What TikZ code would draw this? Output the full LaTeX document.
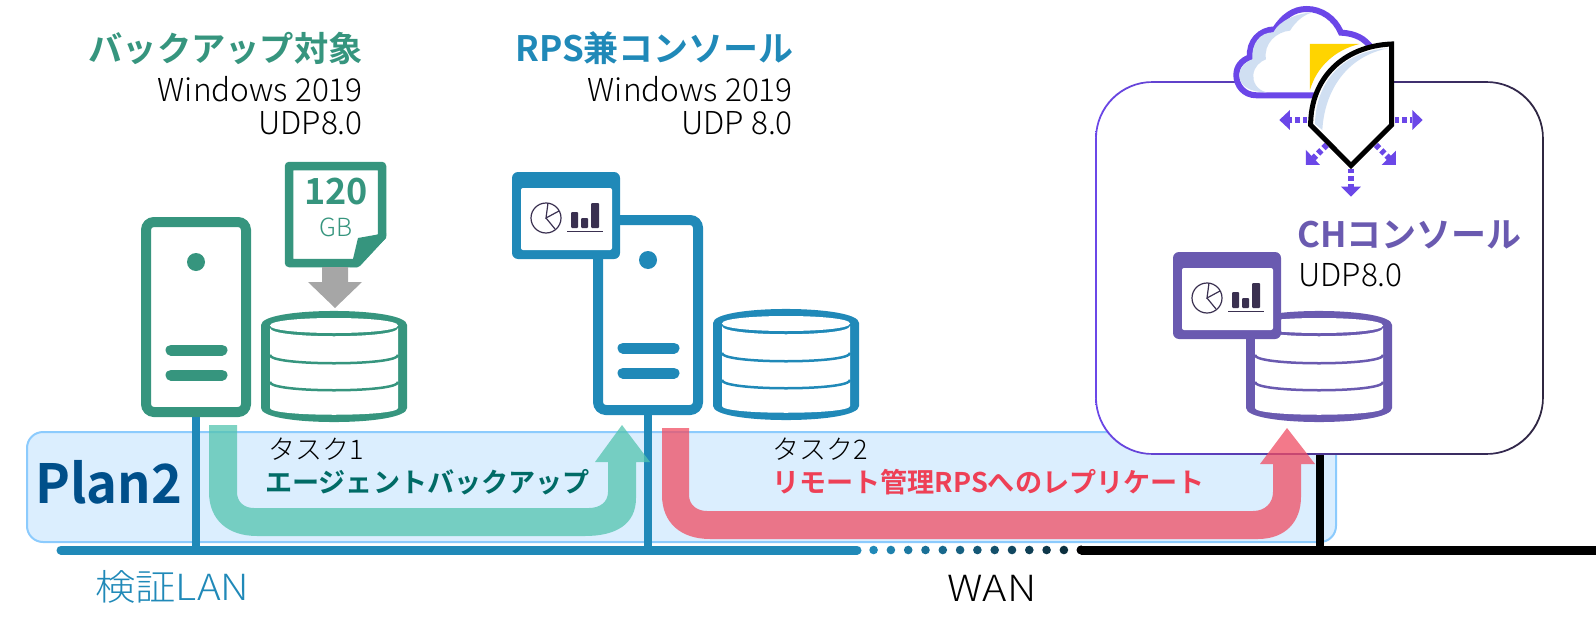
\documentclass[tikz,border=0pt]{standalone}
\usepackage{fontspec}
\setmainfont{Noto Sans CJK JP Light}[BoldFont=Noto Sans CJK JP Bold]
\definecolor{tealc}{HTML}{36957E}
\definecolor{bluec}{HTML}{2089B8}
\definecolor{purc}{HTML}{6A5AB0}
\definecolor{vio}{HTML}{6B47E8}
\definecolor{darkc}{HTML}{3A3050}
\definecolor{planfill}{HTML}{DBEEFE}
\definecolor{planline}{HTML}{8CCBFD}
\definecolor{redc}{HTML}{EE4056}
\definecolor{redarrow}{HTML}{F04D63}
\definecolor{tealarrow}{HTML}{53C4AF}
\definecolor{tealtext}{HTML}{006B66}
\definecolor{plantext}{HTML}{004F8A}
\definecolor{cloudshade}{HTML}{D0DFF2}
\definecolor{yel}{HTML}{FFD400}
\newcommand{\fs}[1]{\fontsize{#1}{#1}\selectfont}
\tikzset{
  serverbox/.style={draw=#1,fill=white,line width=10pt,rounded corners=8pt,minimum width=100pt,minimum height=190pt,inner sep=0pt},
  txt/.style={inner sep=0pt,align=left},
  link/.style={line width=8pt},
  vio dash/.style={draw=vio,line width=6pt,dash pattern=on 4.5pt off 3pt},
}
\newcommand{\dbicon}[3]{%
  \begin{scope}[shift={(#1,#2)}]
    \fill[#3] (-73,14) .. controls (-73,-4.7) and (73,-4.7) .. (73,14) -- (73,97) .. controls (73,115.7) and (-73,115.7) .. (-73,97) -- cycle;
    \fill[white] (-64,14.5) .. controls (-64,4.5) and (64,4.5) .. (64,14.5) .. controls (64,24.5) and (-64,24.5) .. (-64,14.5) -- cycle;
    \fill[white] (-64,17) .. controls (-64,28) and (64,28) .. (64,17) -- (64,97) .. controls (64,106) and (-64,106) .. (-64,97) -- cycle;
    \draw[#3,line width=2.5pt] (-64,44) .. controls (-64,55) and (64,55) .. (64,44);
    \draw[#3,line width=2.5pt] (-64,71) .. controls (-64,82) and (64,82) .. (64,71);
  \end{scope}}
\newcommand{\winicon}[3]{%
  \begin{scope}[shift={(#1,#2)}]
    \fill[#3,rounded corners=6pt] (0,0) rectangle (108,87);
    \fill[white,rounded corners=2pt] (9,16) rectangle (100,78);
    \draw[darkc,line width=1.2pt] (34,46) circle (15);
    \draw[darkc,line width=1.2pt] (36,31) -- (34,46) -- (47,39);
    \draw[darkc,line width=1.2pt] (34,46) -- (43,57);
    \fill[darkc,rounded corners=1pt] (59,40) rectangle (66,56);
    \fill[darkc,rounded corners=1pt] (69,46) rectangle (76,56);
    \fill[darkc,rounded corners=1pt] (79,31) rectangle (87,56);
    \draw[darkc,line width=1pt] (55,59) -- (91,59);
  \end{scope}}
\begin{document}
\begin{tikzpicture}[x=1pt,y=-1pt]
\useasboundingbox (0,0) rectangle (1596,637);
% plan band
\draw[fill=planfill,draw=planline,line width=2pt,rounded corners=16pt] (27,432) rectangle (1336,542);
% LAN / WAN
\coordinate (lanl) at (61,550);
\coordinate (lanr) at (857,550);
\coordinate (wanl) at (1081,550);
\coordinate (wanr) at (1596,550);
\draw[bluec,line width=9pt,line cap=round] (lanl) -- (lanr);
\foreach \i in {0,...,12}{
  \pgfmathtruncatemacro{\p}{100-\i*6}
  \fill[bluec!\p!black] ({873.6+\i*17.3},550) circle (4.3);
}
\draw[black,line width=9pt] (wanr) -- (1081,550);
\fill[black] (wanl) circle (4.5);
% servers
\node[serverbox=tealc] (srv1) at (196,317) {};
\node[serverbox=bluec] (srv2) at (648,315) {};
\draw[bluec,link] (srv1.south) -- (srv1.south |- lanl);
\draw[bluec,link] (srv2.south) -- (srv2.south |- lanl);
\fill[tealc] (196,262) circle (9);
\draw[tealc,line width=11pt,line cap=round] (171,350) -- (222,350);
\draw[tealc,line width=11pt,line cap=round] (171,375) -- (222,375);
\fill[bluec] (648,260) circle (9);
\draw[bluec,line width=11pt,line cap=round] (623,348) -- (674,348);
\draw[bluec,line width=11pt,line cap=round] (623,373) -- (674,373);
% big box
\coordinate (boxbottom) at (1320,454);
\draw[black,link] (boxbottom) -- (boxbottom |- wanl);
\fill[white,rounded corners=57pt] (1096,82) rectangle (1543,454);
\path[left color=vio,middle color=vio!75!black,right color=darkc!80!black,even odd rule]
  [rounded corners=57pt] (1095.2,81.2) rectangle (1543.8,454.8)
  [rounded corners=56pt] (1096.8,82.8) rectangle (1542.2,453.2);
% document
\draw[tealc,fill=white,line width=8.5pt,line join=round] (289,166) -- (382,166) -- (382,236) -- (357,263) -- (289,263) -- cycle;
\fill[tealc] (353,259) -- (358,238) -- (386,233) -- (386,238) -- (358,267) -- (350,267) -- cycle;
\node[txt,tealc] (num) at (336,192) {\fs{36}\bfseries 120};
\node[txt,tealc] (gb) at (336,227) {\fs{25}GB};
\fill[black!35] (322,267) -- (348,267) -- (348,282) -- (362,282) -- (335,308) -- (308,282) -- (322,282) -- cycle;
% databases
\dbicon{334}{311}{tealc}
\dbicon{786}{309}{bluec}
\dbicon{1319}{311}{purc}
% windows
\winicon{512}{172}{bluec}
\winicon{1173}{252}{purc}
% arrows
\fill[tealarrow,opacity=.75] (209,425) -- (209,492) .. controls (209,520) and (228,536) .. (257,536) -- (585,536) .. controls (615,536) and (636,525) .. (636,498) -- (636,462) -- (650,462) -- (622,425) -- (595,462) -- (608,462) -- (608,492) .. controls (608,502) and (600,508) .. (589,508) -- (254,508) .. controls (244,508) and (237,502) .. (237,492) -- (237,425) -- cycle;
\fill[redarrow,opacity=.75] (662,428) -- (662,495) .. controls (662,523) and (681,539) .. (710,539) -- (1258,539) .. controls (1285,539) and (1301,522) .. (1301,497) -- (1301,464) -- (1315,464) -- (1287,428) -- (1260,464) -- (1273,464) -- (1273,492) .. controls (1273,503) and (1265,511) .. (1253,511) -- (707,511) .. controls (697,511) and (689,505) .. (689,495) -- (689,428) -- cycle;
% cloud and shield
\begin{scope}[shift={(1080,0)},x=0.3333pt,y=-0.3333pt]
  \draw[vio,fill=white,line width=6pt] (710,286) -- (530,286) .. controls (490,286) and (469,255) .. (469,225) .. controls (469,200) and (485,180) .. (510,172) .. controls (505,125) and (540,88) .. (585,88) .. controls (610,50) and (640,27) .. (680,27) .. controls (725,27) and (765,55) .. (783,98) .. controls (825,100) and (855,115) .. (875,145);
  \fill[cloudshade] (700,37) .. controls (650,40) and (600,60) .. (580,97) .. controls (540,97) and (514,130) .. (517,178) .. controls (495,185) and (478,205) .. (478,225) .. controls (478,255) and (505,277) .. (560,277) .. controls (530,270) and (518,245) .. (520,225) .. controls (522,200) and (540,185) .. (558,178) .. controls (550,130) and (590,95) .. (630,92) .. controls (650,60) and (675,42) .. (700,37) -- cycle;
  \fill[yel] (690,132) -- (838,132) .. controls (765,150) and (710,200) .. (690,270) -- cycle;
  \draw[black,fill=white,line width=5pt,miter limit=10] (692,375) .. controls (692,235) and (790,138) .. (935,132) -- (935,375) -- (813,497) -- cycle;
  \fill[cloudshade] (705,372) .. controls (707,245) and (790,152) .. (925,145) .. controls (815,165) and (735,255) .. (727,390) -- cycle;
  % dotted arrows
  \draw[vio dash] (682,360) -- (630,360);
  \fill[vio] (598,360) -- (630,330) -- (630,390) -- cycle;
  \draw[vio dash] (945,360) -- (997,360);
  \fill[vio] (1028,360) -- (997,330) -- (997,390) -- cycle;
  \draw[vio dash] (813,507) -- (813,560);
  \fill[vio] (813,590) -- (783,560) -- (843,560) -- cycle;
  \draw[vio dash] (740,435) -- (700,475);
  \fill[vio] (678,495) -- (678,450) -- (720,495) -- cycle;
  \draw[vio dash] (888,435) -- (928,475);
  \fill[vio] (948,495) -- (948,452) -- (905,495) -- cycle;
\end{scope}
% texts
\node[txt,anchor=east,tealc] (t1) at (363,48) {\fs{34.3}\bfseries バックアップ対象};
\node[txt,anchor=east] (t2) at (363,89) {\fs{31.6}Windows 2019};
\node[txt,anchor=east] (t3) at (363,123) {\fs{31.6}UDP8.0};
\node[txt,anchor=east,bluec] (t4) at (794,48) {\fs{35}\bfseries RPS兼コンソール};
\node[txt,anchor=east] (t5) at (793,89) {\fs{31.6}Windows 2019};
\node[txt,anchor=east] (t6) at (793,123) {\fs{31.6}UDP 8.0};
\node[txt,anchor=west,purc] (t7) at (1297,235) {\fs{35}\bfseries CHコンソール};
\node[txt,anchor=west] (t8) at (1298,275) {\fs{31.6}UDP8.0};
\node[txt,anchor=west,plantext] (t9) at (35,482) {\scalebox{.97}[1]{\fs{54}\bfseries Plan2}};
\node[txt,anchor=west] (t10) at (268,449) {\fs{27}タスク1};
\node[txt,anchor=west,tealtext] (t11) at (265,482) {\fs{27.1}\bfseries エージェントバックアップ};
\node[txt,anchor=west] (t12) at (772,449) {\fs{27}タスク2};
\node[txt,anchor=west,redc] (t13) at (772,482) {\fs{27.1}\bfseries リモート管理RPSへのレプリケート};
\node[txt,anchor=west,bluec] (t14) at (95,587) {\scalebox{1.12}[1]{\fs{36}検証LAN}};
\node[txt,anchor=west] (t15) at (947,588) {\scalebox{1.15}[1]{\fs{36}WAN}};
\end{tikzpicture}
\end{document}
